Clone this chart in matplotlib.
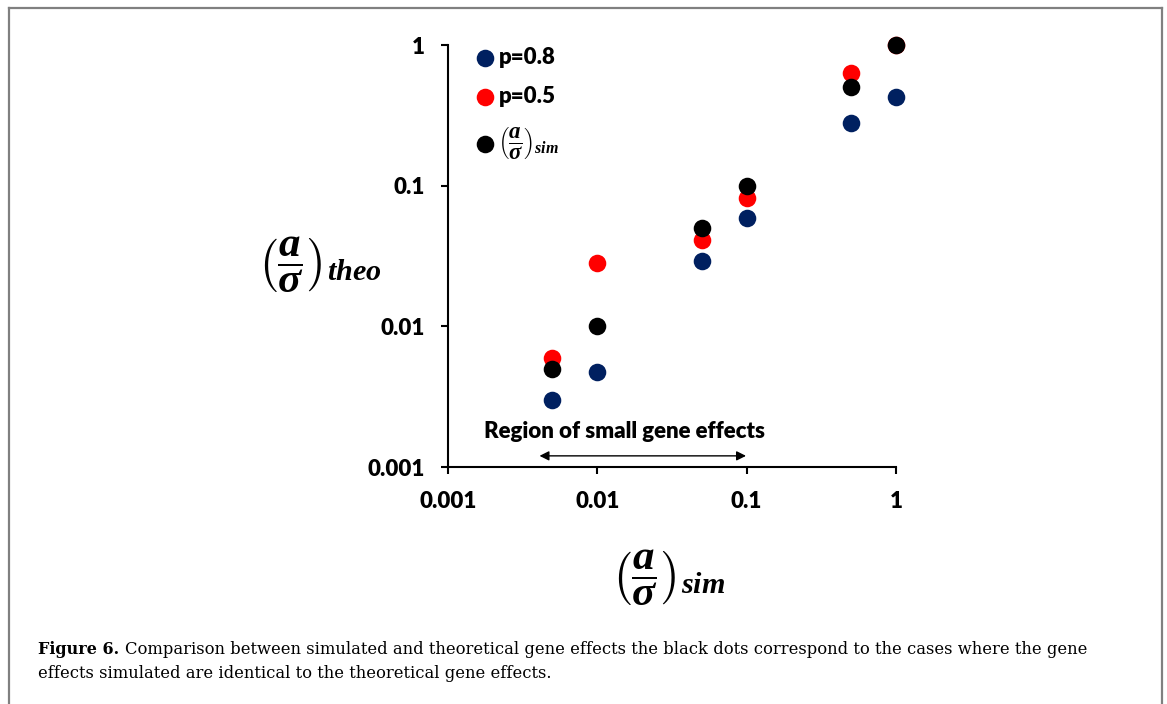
import numpy as np
import matplotlib
matplotlib.use("Agg")
import matplotlib.pyplot as plt
from matplotlib.lines import Line2D
from matplotlib.ticker import FixedLocator, NullLocator

plt.rcParams['mathtext.fontset'] = 'custom'
plt.rcParams['mathtext.it'] = 'Liberation Serif:italic:bold'
plt.rcParams['mathtext.rm'] = 'Liberation Serif:bold'
plt.rcParams['mathtext.bf'] = 'Liberation Serif:bold'

# Data
x_sim = [0.005, 0.01, 0.05, 0.1, 0.5, 1.0]
theo_p08 = [0.0030, 0.0047, 0.029, 0.059, 0.28, 0.43]
theo_p05 = [0.0060, 0.028, 0.041, 0.082, 0.63, 1.0]
theo_sim = [0.005, 0.01, 0.05, 0.1, 0.5, 1.0]
tick_vals = [0.001, 0.01, 0.1, 1]
tick_labels = ["0.001", "0.01", "0.1", "1"]
series_labels = ["p=0.8", "p=0.5", r"$\left(\dfrac{a}{\sigma}\right)_{sim}$"]
colors = ["#002060", "#FF0000", "#000000"]
caption_bold = "Figure 6."
caption_line1 = ("Comparison between simulated and theoretical gene effects the black dots "
                 "correspond to the cases where the gene")
caption_line2 = "effects simulated are identical to the theoretical gene effects."
annot_text = "Region of small gene effects"

W, H = 1167, 704
fig = plt.figure(figsize=(W / 100, H / 100), dpi=100)
ax = fig.add_axes([448 / W, 1 - 467 / H, (896 - 448) / W, (467 - 45) / H])
ax.set_xscale('log')
ax.set_yscale('log')
ax.set_xlim(0.001, 1)
ax.set_ylim(0.001, 1)

ms = 160
h1 = ax.scatter(x_sim, theo_p08, s=ms, color=colors[0], zorder=3, linewidths=0, clip_on=False)
h2 = ax.scatter(x_sim, theo_p05, s=ms, color=colors[1], zorder=4, linewidths=0, clip_on=False)
h3 = ax.scatter(x_sim, theo_sim, s=ms, color=colors[2], zorder=5, linewidths=0, clip_on=False)

for sp in ['top', 'right']:
    ax.spines[sp].set_visible(False)
for sp in ['left', 'bottom']:
    ax.spines[sp].set_linewidth(1.5)

tick_font = dict(family='Lato', weight='heavy', size=16)
ax.xaxis.set_major_locator(FixedLocator(tick_vals))
ax.yaxis.set_major_locator(FixedLocator(tick_vals))
ax.xaxis.set_minor_locator(NullLocator())
ax.yaxis.set_minor_locator(NullLocator())
ax.set_xticklabels(tick_labels, fontdict=tick_font)
ax.set_yticklabels(tick_labels, fontdict=tick_font)
ax.tick_params(axis='both', direction='out', length=5, width=1.5)
ax.tick_params(axis='x', pad=12)
ax.tick_params(axis='y', pad=12)

# Axis labels
ax.set_ylabel(r"$\left(\dfrac{a}{\sigma}\right)_{theo}$", fontsize=31, rotation=0,
              va='center', ha='center')
ax.yaxis.set_label_coords((319 - 448) / (896 - 448), (467 - 265) / (467 - 45))
ax.set_xlabel(r"$\left(\dfrac{a}{\sigma}\right)_{sim}$", fontsize=31, va='center', ha='center')
ax.xaxis.set_label_coords((668 - 448) / (896 - 448), (467 - 578) / (467 - 45))

# Legend
leg = ax.legend([h1, h2, h3], series_labels, loc='upper left',
                bbox_to_anchor=(26 / 448, 1.0 - 2 / 422), frameon=False,
                handlelength=1.0, handletextpad=0.1, labelspacing=0.8, borderaxespad=0,
                borderpad=0, prop=dict(family='Lato', weight='heavy', size=16), scatterpoints=1)
leg.get_texts()[2].set_fontsize(16.5)

# Annotation
ax.annotate("", xy=(0.0041, 0.0012), xytext=(0.099, 0.0012),
            arrowprops=dict(arrowstyle='<|-|>', color='black', lw=1.0,
                            mutation_scale=14, shrinkA=0, shrinkB=0))
ax.text(0.0153, 0.00178, annot_text, ha='center', va='center',
        family='Lato', weight='heavy', fontsize=16)

# Caption
tb = fig.text(38 / W, 1 - 650 / H, caption_bold, family='DejaVu Serif', weight='bold',
              fontsize=11.5, va='center', ha='left')
fig.canvas.draw()
bb = tb.get_window_extent()
fig.text((bb.x1 + 6) / W, 1 - 650 / H, caption_line1, family='DejaVu Serif',
         fontsize=11.8, va='center', ha='left')
fig.text(38 / W, 1 - 674 / H, caption_line2, family='DejaVu Serif',
         fontsize=11.8, va='center', ha='left')

# Border
bc = '#808080'
for xs, ys in [([8.5, 8.5], [704, 7.5]), ([8.5, 1161.5], [7.5, 7.5]), ([1161.5, 1161.5], [7.5, 704])]:
    fig.add_artist(Line2D([v / W for v in xs], [1 - v / H for v in ys], color=bc, lw=1.6,
                          transform=fig.transFigure))

fig.savefig("out.png", dpi=100)
